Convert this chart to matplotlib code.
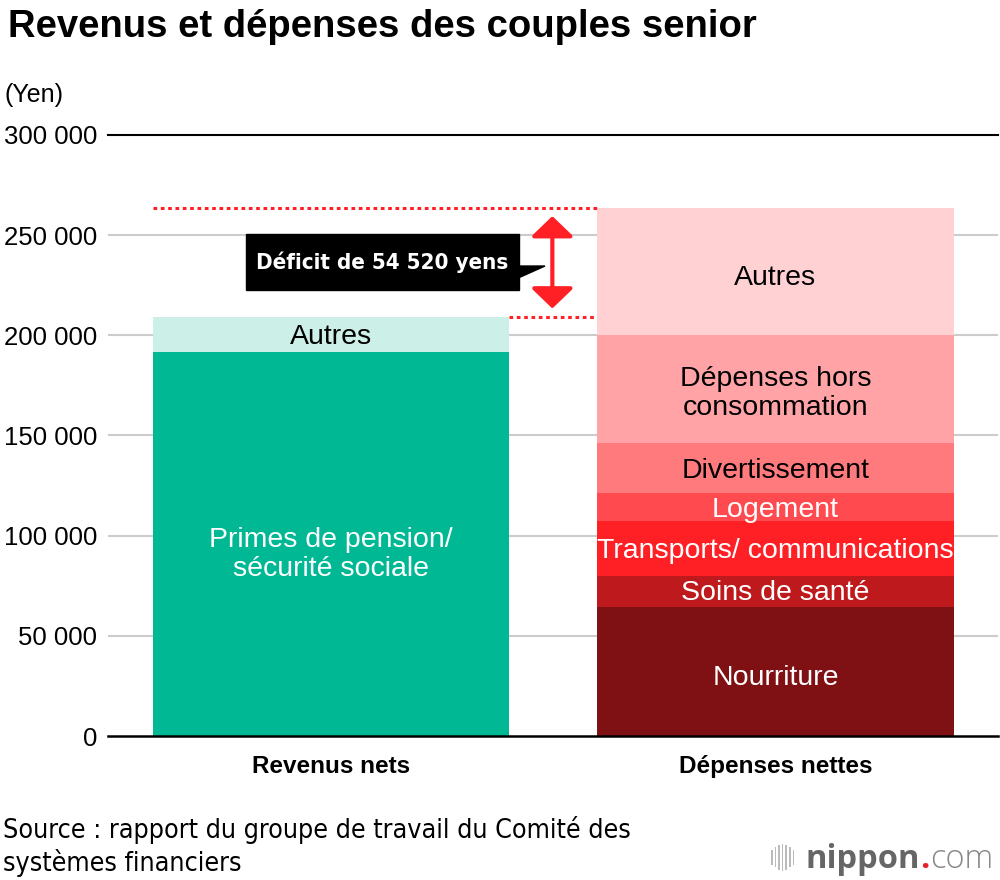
import matplotlib
matplotlib.use("Agg")
import matplotlib.pyplot as plt
from matplotlib.patches import Polygon, Rectangle
from matplotlib import font_manager as fm

plt.rcParams['font.family'] = ['Liberation Sans', 'DejaVu Sans']

categories = ["Revenus nets", "Dépenses nettes"]
rev_labels = ["Primes de pension/\nsécurité sociale", "Autres"]
rev_values = [191880, 17318]
exp_labels = ["Nourriture", "Soins de santé", "Transports/ communications", "Logement",
              "Divertissement", "Dépenses hors\nconsommation", "Autres"]
exp_values = [64444, 15512, 27576, 13656, 25077, 54028, 63425]
yticks = [0, 50000, 100000, 150000, 200000, 250000, 300000]
ytick_labels = ["0", "50 000", "100 000", "150 000", "200 000", "250 000", "300 000"]
deficit_text = "Déficit de 54 520 yens"

rev_colors = ["#00B894", "#CCEFE8"]
rev_text = ["white", "black"]
rev_dy = [-8, -2]
exp_colors = ["#7F1013", "#BE1A1D", "#FF2025", "#FF4A4F", "#FF7A7C", "#FFA3A6", "#FFD1D3"]
exp_text = ["white", "white", "white", "white", "black", "black", "black"]
exp_dy = [-5, -1, -2, -2, -2, -3, -5]


def find_narrow(bold):
    best = None
    for f in fm.fontManager.ttflist:
        nm = f.name.lower()
        narrow = ("narrow" in nm) or ("condensed" in str(f.stretch).lower()) or ("condensed" in nm)
        if not narrow:
            continue
        isbold = (f.weight in ("bold", 700) or str(f.weight) == "700")
        if isbold != bold:
            continue
        if "italic" in str(f.style) or "oblique" in str(f.style):
            continue
        if best is None or "liberation" in nm:
            best = f.fname
    return best


nb = find_narrow(True)
nr = find_narrow(False)
fp_nb = fm.FontProperties(fname=nb) if nb else fm.FontProperties(family="Liberation Sans", weight="bold")
fp_nr = fm.FontProperties(fname=nr) if nr else fm.FontProperties(family="Liberation Sans")

fig = plt.figure(figsize=(10, 8.8), dpi=100)
ax = fig.add_axes([0.108, 1 - 736/880, 0.890, (736-135)/880])
ax.set_xlim(-0.5017, 1.5006)
ax.set_ylim(0, 300000)
W = 0.801

for yv in yticks[1:-1]:
    ax.axhline(yv, color="#CCCCCC", lw=1.5, zorder=0)
ax.axhline(300000, color="black", lw=1.5, zorder=0, clip_on=False)
ax.axhline(0, color="black", lw=1.8, zorder=3, clip_on=False)

bottom = 0
for v, c, lab, tc, dy in zip(rev_values, rev_colors, rev_labels, rev_text, rev_dy):
    ax.bar(0, v, width=W, bottom=bottom, color=c, zorder=2)
    ax.annotate(lab, xy=(0, bottom + v/2), xytext=(0, dy), textcoords="offset points",
                ha="center", va="center", color=tc, fontsize=20.5, linespacing=1.15, zorder=4)
    bottom += v
total_rev = bottom

bottom = 0
for v, c, lab, tc, dy in zip(exp_values, exp_colors, exp_labels, exp_text, exp_dy):
    ax.bar(1, v, width=W, bottom=bottom, color=c, zorder=2)
    ax.annotate(lab, xy=(1, bottom + v/2), xytext=(0, dy), textcoords="offset points",
                ha="center", va="center", color=tc, fontsize=20.5, linespacing=1.15, zorder=4)
    bottom += v
total_exp = bottom

# deficit dotted lines
red = "#FF2026"
ax.plot([-W/2, 1 - W/2], [total_exp, total_exp], color=red, lw=2.2,
        linestyle=(0, (1.2, 1.2)), zorder=3, dash_capstyle="butt")
ax.plot([W/2, 1 - W/2], [total_rev, total_rev], color=red, lw=2.2,
        linestyle=(0, (1.2, 1.2)), zorder=3, dash_capstyle="butt")
# double arrow
xa = 0.498
ax.annotate("", xy=(xa, total_rev + 4200), xytext=(xa, total_exp - 4200),
            arrowprops=dict(arrowstyle="<|-|>,head_length=1.25,head_width=1.3",
                            color=red, lw=3, shrinkA=0, shrinkB=0), zorder=4)
# label box
bx0, bx1 = -0.191, 0.423
by0, by1 = 222600, 250500
ax.add_patch(Rectangle((bx0, by0), bx1 - bx0, by1 - by0, color="black", zorder=4))
ax.add_patch(Polygon([[bx1 - 0.002, 234600], [0.4814, 234600], [bx1 - 0.002, 228600]],
                     closed=True, color="black", zorder=4))
ax.text((bx0 + bx1)/2, (by0 + by1)/2, deficit_text, ha="center", va="center",
        color="white", fontproperties=fp_nb, fontsize=16, zorder=5)

ax.set_yticks(yticks)
ax.set_yticklabels(ytick_labels, fontsize=18.5)
ax.set_xticks([0, 1])
ax.set_xticklabels(categories, fontsize=17.5, fontweight="bold")
ax.tick_params(axis="y", length=0, pad=8)
ax.tick_params(axis="x", length=0, pad=14)
for s in ax.spines.values():
    s.set_visible(False)

fig.text(0.008, 0.969, "Revenus et dépenses des couples senior", fontsize=27.5,
         fontweight="bold", va="center", ha="left")
fig.text(0.005, 0.892, "(Yen)", fontsize=18, va="center", ha="left")
fig.text(0.003, 0.038, "Source : rapport du groupe de travail du Comité des\nsystèmes financiers",
         fontproperties=fp_nr, fontsize=19.3, va="center", ha="left", linespacing=1.25)

# nippon.com logo
bars_h = [15, 20, 25, 27, 25, 20, 15]
for i, h in enumerate(bars_h):
    fig.add_artist(Rectangle(((771 + i*3.6)/1000, (880 - 857 - h/2)/880), 1.6/1000, h/880,
                             transform=fig.transFigure, color="#BBBBBB", lw=0))
ybase = (880 - 868)/880
t1 = fig.text(0.806, ybase, "nippon", family=["Open Sans", "DejaVu Sans"], fontweight="bold",
              fontsize=23.5, color="#666666", va="baseline", ha="left")
fig.canvas.draw()
r = fig.canvas.get_renderer()
bb = t1.get_window_extent(r)
x2 = bb.x1 / fig.bbox.width
t2 = fig.text(x2, ybase, ".", family=["Open Sans", "DejaVu Sans"], fontweight="bold",
              fontsize=23.5, color="#E8202A", va="baseline", ha="left")
bb2 = t2.get_window_extent(r)
x3 = bb2.x1 / fig.bbox.width
fig.text(x3, ybase, "com", family=["Open Sans", "DejaVu Sans"], fontweight="light",
         fontsize=23.5, color="#888888", va="baseline", ha="left")

fig.savefig("out.png", dpi=100)
